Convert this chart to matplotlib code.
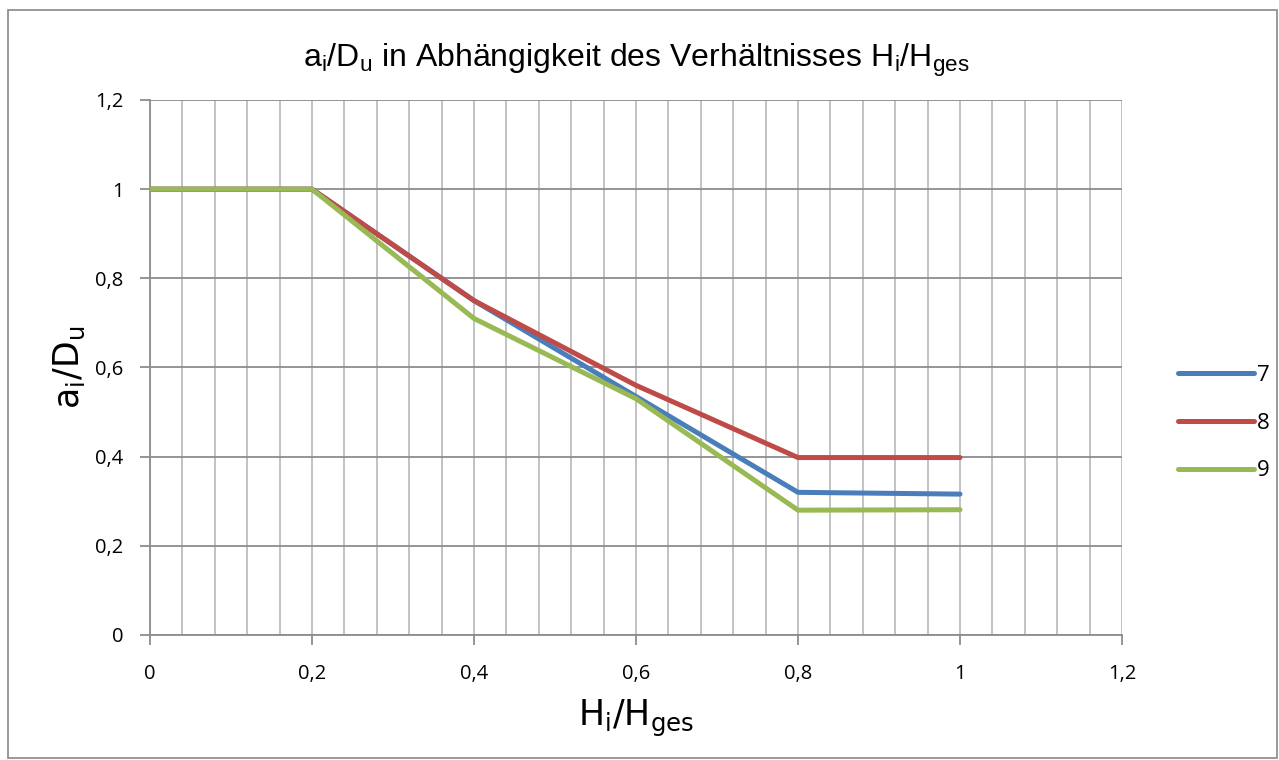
import matplotlib.pyplot as plt
from matplotlib.ticker import MultipleLocator, FuncFormatter
from matplotlib.patches import Rectangle

plt.rcParams['mathtext.fontset'] = 'custom'
plt.rcParams['mathtext.rm'] = 'Liberation Sans'
plt.rcParams['mathtext.it'] = 'Liberation Sans'

x = [0, 0.2, 0.4, 0.6, 0.8, 1.0]
s7 = [1, 1, 0.75, 0.535, 0.32, 0.316]
s8 = [1, 1, 0.75, 0.56, 0.398, 0.398]
s9 = [1, 1, 0.71, 0.53, 0.28, 0.281]
labels = ["7", "8", "9"]
colors = ["#4A7EBB", "#BE4B48", "#98B954"]

fig = plt.figure(figsize=(12.79, 7.6), dpi=100)
ax = fig.add_axes([150 / 1279, 1 - 635 / 760, 972 / 1279, 535 / 760])

# outer frame of the chart area
fig.patches.append(Rectangle((8 / 1279, 2 / 760), 1269 / 1279, 748 / 760,
                             transform=fig.transFigure, fill=False,
                             edgecolor="#888888", linewidth=1.2))

for ys, lab, c in zip([s7, s8, s9], labels, colors):
    ax.plot(x, ys, color=c, lw=3.6, label=lab, solid_capstyle="round",
            solid_joinstyle="round", zorder=3)

ax.set_xlim(0, 1.2)
ax.set_ylim(0, 1.2)
ax.xaxis.set_major_locator(MultipleLocator(0.2))
ax.xaxis.set_minor_locator(MultipleLocator(0.04))
ax.yaxis.set_major_locator(MultipleLocator(0.2))
fmt = FuncFormatter(lambda v, p: ("%g" % round(v, 2)).replace(".", ","))
ax.xaxis.set_major_formatter(fmt)
ax.yaxis.set_major_formatter(fmt)

ax.grid(True, axis="x", which="both", color="#BDBDBD", lw=1.3)
ax.grid(True, axis="y", which="major", color="#8C8C8C", lw=1.3)
ax.set_axisbelow(True)

for sp in ["top", "right"]:
    ax.spines[sp].set_visible(False)
ax.spines["left"].set_color("#8C8C8C")
ax.spines["bottom"].set_color("#8C8C8C")
ax.spines["left"].set_linewidth(1.3)
ax.spines["bottom"].set_linewidth(1.3)

ax.tick_params(axis="both", which="major", length=7, width=1.3, color="#8C8C8C",
               labelsize=14.5)
ax.tick_params(axis="x", which="major", pad=14)
ax.tick_params(axis="y", which="major", pad=12)
ax.tick_params(axis="x", which="minor", length=0)
for t in ax.get_xticklabels() + ax.get_yticklabels():
    t.set_fontfamily("Open Sans")

ax.set_title(r"$\mathregular{a_i/D_u}$ in Abhängigkeit des Verhältnisses $\mathregular{H_i/H_{ges}}$",
             fontsize=23, family="Liberation Sans", pad=24)
ax.set_xlabel(r"$\mathregular{H_i/H_{ges}}$", fontsize=25, labelpad=10)
ax.set_ylabel(r"$\mathregular{a_i/D_u}$", fontsize=25, labelpad=6)

ax.legend(loc="center left", bbox_to_anchor=(1.037, 0.396), frameon=False,
          handlelength=3.4, handletextpad=0.15, labelspacing=1.2,
          prop={"family": "Open Sans", "size": 16})

fig.savefig("out.png", dpi=100)
